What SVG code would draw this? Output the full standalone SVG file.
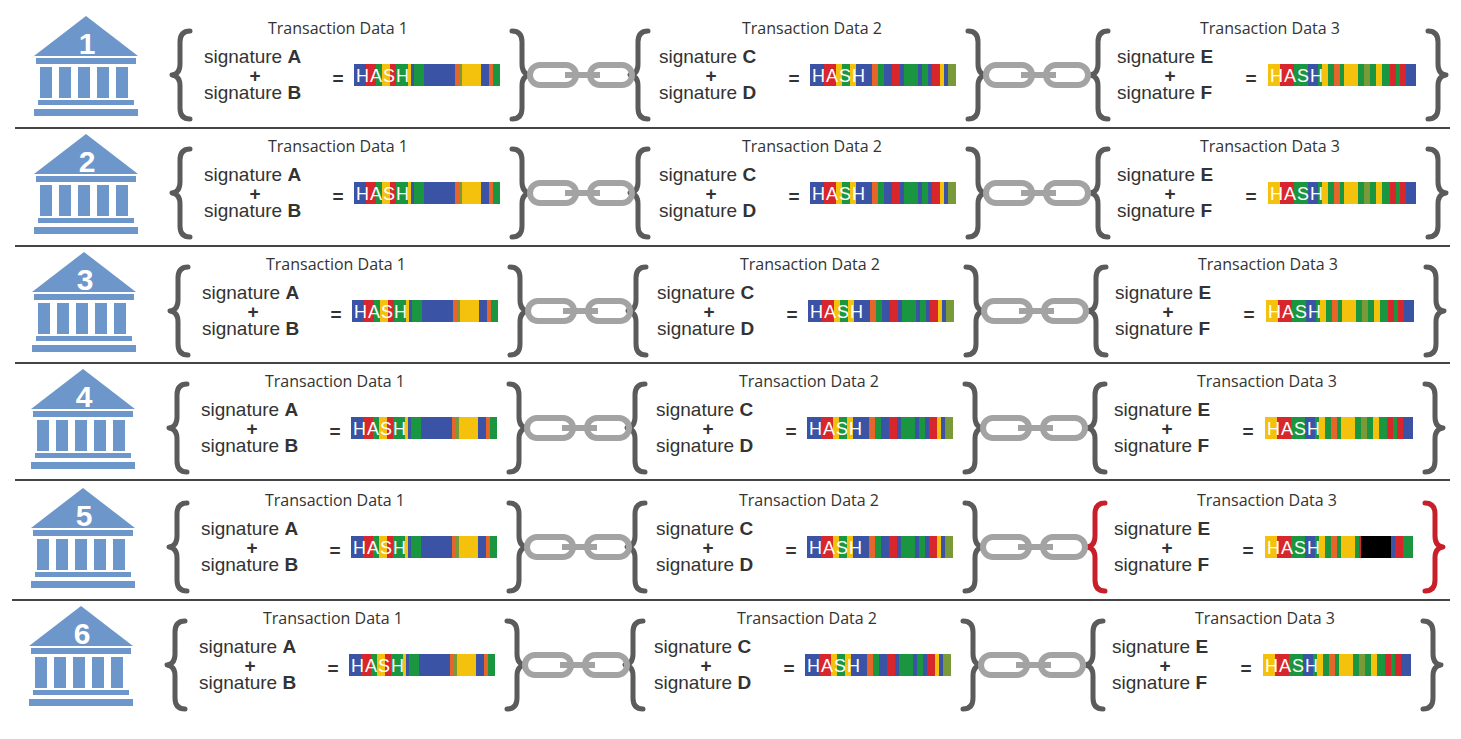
<svg xmlns="http://www.w3.org/2000/svg" xmlns:xlink="http://www.w3.org/1999/xlink" width="1461" height="739" viewBox="0 0 1461 739">
<style>
.t{font-family:"Open Sans","Liberation Sans",sans-serif;font-size:16px;fill:#333;text-anchor:middle}
.s{font-family:"Liberation Sans",Arial,sans-serif;font-size:19px;fill:#333}
.b{font-weight:bold}
.p{font-family:"Liberation Sans",Arial,sans-serif;font-size:19px;font-weight:bold;fill:#333;text-anchor:middle}
.h{font-family:"Liberation Sans",Arial,sans-serif;font-size:18px;fill:#fff;letter-spacing:1px}
.br{fill:none;stroke:#5b5b5b;stroke-width:5;stroke-linecap:round;stroke-linejoin:round}
.red{stroke:#c8202a}
.ch{fill:none;stroke:#a3a3a3;stroke-width:6}
.bk{fill:#6d96cb}
.num{font-family:"Liberation Sans",Arial,sans-serif;font-size:30px;font-weight:bold;fill:#fff;text-anchor:middle}
.sep{stroke:#444;stroke-width:2}
</style>
<defs>
<g id="bank">
<polygon class="bk" points="86,16 34,56 138,56"/>
<rect class="bk" x="36" y="58" width="100" height="6"/>
<rect class="bk" x="40" y="67" width="12" height="31"/>
<rect class="bk" x="59" y="67" width="12" height="31"/>
<rect class="bk" x="78" y="67" width="12" height="31"/>
<rect class="bk" x="97" y="67" width="12" height="31"/>
<rect class="bk" x="116" y="67" width="12" height="31"/>
<rect class="bk" x="38" y="100" width="96" height="5"/>
<rect class="bk" x="34" y="109" width="104" height="7"/>
</g>
<path id="lb" d="M18,31 Q8,31 8,42 L8,64 Q8,74 0,75 Q8,76 8,86 L8,108 Q8,119 18,119"/>
<path id="rb" d="M0,31 Q10,31 10,42 L10,64 Q10,74 18,75 Q10,76 10,86 L10,108 Q10,119 0,119"/>
<g id="chain">
<line class="ch" x1="565" y1="75" x2="600" y2="75"/>
<rect class="ch" x="530" y="65" width="46" height="20" rx="10"/>
<rect class="ch" x="590" y="65" width="42" height="20" rx="10"/>
</g>
<g id="h1">
<rect x="0" y="0" width="146" height="22" fill="#3a53a4"/>
<rect x="12" y="0" width="10" height="22" fill="#d7262c"/>
<rect x="22" y="0" width="6" height="22" fill="#1a9640"/>
<rect x="28" y="0" width="8" height="22" fill="#f4c20d"/>
<rect x="36" y="0" width="6" height="22" fill="#d7262c"/>
<rect x="42" y="0" width="12" height="22" fill="#1a9640"/>
<rect x="54" y="0" width="3" height="22" fill="#f4c20d"/>
<rect x="60" y="0" width="10" height="22" fill="#1a9640"/>
<rect x="101" y="0" width="4" height="22" fill="#e5652a"/>
<rect x="105" y="0" width="3" height="22" fill="#7a9a3a"/>
<rect x="108" y="0" width="19" height="22" fill="#f4c20d"/>
<rect x="135" y="0" width="4" height="22" fill="#e5652a"/>
<rect x="139" y="0" width="7" height="22" fill="#1a9640"/>
<text class="h" x="2" y="18">HASH</text>
</g>
<g id="h2">
<rect x="0" y="0" width="146" height="22" fill="#3a53a4"/>
<rect x="14" y="0" width="12" height="22" fill="#d7262c"/>
<rect x="26" y="0" width="6" height="22" fill="#f4c20d"/>
<rect x="32" y="0" width="8" height="22" fill="#1a9640"/>
<rect x="40" y="0" width="6" height="22" fill="#f4c20d"/>
<rect x="62" y="0" width="6" height="22" fill="#e5652a"/>
<rect x="68" y="0" width="6" height="22" fill="#1a9640"/>
<rect x="82" y="0" width="8" height="22" fill="#d7262c"/>
<rect x="94" y="0" width="14" height="22" fill="#1a9640"/>
<rect x="112" y="0" width="6" height="22" fill="#1a9640"/>
<rect x="122" y="0" width="8" height="22" fill="#d7262c"/>
<rect x="130" y="0" width="4" height="22" fill="#f4c20d"/>
<rect x="138" y="0" width="8" height="22" fill="#7a9a3a"/>
<text class="h" x="2" y="18">HASH</text>
</g>
<g id="h3">
<rect x="0" y="0" width="148" height="22" fill="#1a9640"/>
<rect x="0" y="0" width="12" height="22" fill="#f4c20d"/>
<rect x="12" y="0" width="14" height="22" fill="#d7262c"/>
<rect x="26" y="0" width="14" height="22" fill="#1a9640"/>
<rect x="40" y="0" width="10" height="22" fill="#3a53a4"/>
<rect x="54" y="0" width="6" height="22" fill="#f4c20d"/>
<rect x="66" y="0" width="6" height="22" fill="#e5652a"/>
<rect x="76" y="0" width="14" height="22" fill="#f4c20d"/>
<rect x="96" y="0" width="6" height="22" fill="#7a9a3a"/>
<rect x="108" y="0" width="6" height="22" fill="#f4c20d"/>
<rect x="122" y="0" width="6" height="22" fill="#d7262c"/>
<rect x="132" y="0" width="6" height="22" fill="#d7262c"/>
<rect x="138" y="0" width="10" height="22" fill="#3a53a4"/>
<text class="h" x="2" y="18">HASH</text>
</g>
<g id="h3bad">
<rect x="0" y="0" width="148" height="22" fill="#1a9640"/>
<rect x="0" y="0" width="12" height="22" fill="#f4c20d"/>
<rect x="12" y="0" width="14" height="22" fill="#d7262c"/>
<rect x="26" y="0" width="14" height="22" fill="#1a9640"/>
<rect x="40" y="0" width="10" height="22" fill="#3a53a4"/>
<rect x="54" y="0" width="6" height="22" fill="#f4c20d"/>
<rect x="66" y="0" width="6" height="22" fill="#e5652a"/>
<rect x="76" y="0" width="14" height="22" fill="#f4c20d"/>
<rect x="94" y="0" width="2" height="22" fill="#d7262c"/>
<rect x="96" y="0" width="30" height="22" fill="#000"/>
<rect x="126" y="0" width="4" height="22" fill="#3a53a4"/>
<rect x="130" y="0" width="8" height="22" fill="#d7262c"/>
<text class="h" x="2" y="18">HASH</text>
</g>
<g id="b1">
<text class="t" x="338" y="34">Transaction Data 1</text>
<text class="s" x="204" y="63">signature <tspan class="b">A</tspan></text>
<text class="p" x="255" y="82">+</text>
<text class="s" x="204" y="99">signature <tspan class="b">B</tspan></text>
<text class="p" x="338" y="85">=</text>
<use xlink:href="#h1" x="354" y="64"/>
</g>
<g id="b2">
<text class="t" x="812" y="34">Transaction Data 2</text>
<text class="s" x="659" y="63">signature <tspan class="b">C</tspan></text>
<text class="p" x="711" y="82">+</text>
<text class="s" x="659" y="99">signature <tspan class="b">D</tspan></text>
<text class="p" x="794" y="85">=</text>
<use xlink:href="#h2" x="810" y="64"/>
</g>
<g id="b3t">
<text class="t" x="1270" y="34">Transaction Data 3</text>
<text class="s" x="1117" y="63">signature <tspan class="b">E</tspan></text>
<text class="p" x="1170" y="82">+</text>
<text class="s" x="1117" y="99">signature <tspan class="b">F</tspan></text>
<text class="p" x="1251" y="85">=</text>
</g>
<g id="conn">
<use xlink:href="#chain"/>
<use xlink:href="#chain" x="456"/>
</g>
<g id="br12">
<use xlink:href="#lb" class="br" x="172"/>
<use xlink:href="#rb" class="br" x="512"/>
<use xlink:href="#lb" class="br" x="630"/>
<use xlink:href="#rb" class="br" x="968"/>
</g>
</defs>
<g id="separators">
<line class="sep" x1="15" y1="128" x2="1450" y2="128"/>
<line class="sep" x1="15" y1="246" x2="1450" y2="246"/>
<line class="sep" x1="15" y1="363" x2="1450" y2="363"/>
<line class="sep" x1="15" y1="480" x2="1450" y2="480"/>
<line class="sep" x1="12" y1="600" x2="1450" y2="600"/>
</g>
<g id="row1">
<use xlink:href="#bank"/><text class="num" x="87" y="54">1</text>
<use xlink:href="#br12"/><use xlink:href="#b1"/><use xlink:href="#b2"/><use xlink:href="#b3t"/>
<use xlink:href="#h3" x="1268" y="64"/>
<use xlink:href="#lb" class="br" x="1090"/><use xlink:href="#rb" class="br" x="1428"/>
</g>
<g id="row2" transform="translate(0,118)">
<use xlink:href="#bank"/><text class="num" x="87" y="54">2</text>
<use xlink:href="#br12"/><use xlink:href="#b1"/><use xlink:href="#b2"/><use xlink:href="#b3t"/>
<use xlink:href="#h3" x="1268" y="64"/>
<use xlink:href="#lb" class="br" x="1090"/><use xlink:href="#rb" class="br" x="1428"/>
</g>
<g id="row3" transform="translate(-2,236)">
<use xlink:href="#bank"/><text class="num" x="87" y="54">3</text>
<use xlink:href="#br12"/><use xlink:href="#b1"/><use xlink:href="#b2"/><use xlink:href="#b3t"/>
<use xlink:href="#h3" x="1268" y="64"/>
<use xlink:href="#lb" class="br" x="1090"/><use xlink:href="#rb" class="br" x="1428"/>
</g>
<g id="row4" transform="translate(-3,353)">
<use xlink:href="#bank"/><text class="num" x="87" y="54">4</text>
<use xlink:href="#br12"/><use xlink:href="#b1"/><use xlink:href="#b2"/><use xlink:href="#b3t"/>
<use xlink:href="#h3" x="1268" y="64"/>
<use xlink:href="#lb" class="br" x="1090"/><use xlink:href="#rb" class="br" x="1428"/>
</g>
<g id="row5" transform="translate(-3,472)">
<use xlink:href="#bank"/><text class="num" x="87" y="54">5</text>
<use xlink:href="#br12"/><use xlink:href="#b1"/><use xlink:href="#b2"/><use xlink:href="#b3t"/>
<use xlink:href="#h3bad" x="1268" y="64"/>
<use xlink:href="#lb" class="br red" x="1090"/><use xlink:href="#rb" class="br red" x="1428"/>
</g>
<g id="row6" transform="translate(-5,590)">
<use xlink:href="#bank"/><text class="num" x="87" y="54">6</text>
<use xlink:href="#br12"/><use xlink:href="#b1"/><use xlink:href="#b2"/><use xlink:href="#b3t"/>
<use xlink:href="#h3" x="1268" y="64"/>
<use xlink:href="#lb" class="br" x="1090"/><use xlink:href="#rb" class="br" x="1428"/>
</g>
<g id="connectors">
<use xlink:href="#conn"/>
<use xlink:href="#conn" y="118"/>
<use xlink:href="#conn" x="-2" y="236"/>
<use xlink:href="#conn" x="-3" y="353"/>
<use xlink:href="#conn" x="-3" y="472"/>
<use xlink:href="#conn" x="-5" y="590"/>
</g>
</svg>
